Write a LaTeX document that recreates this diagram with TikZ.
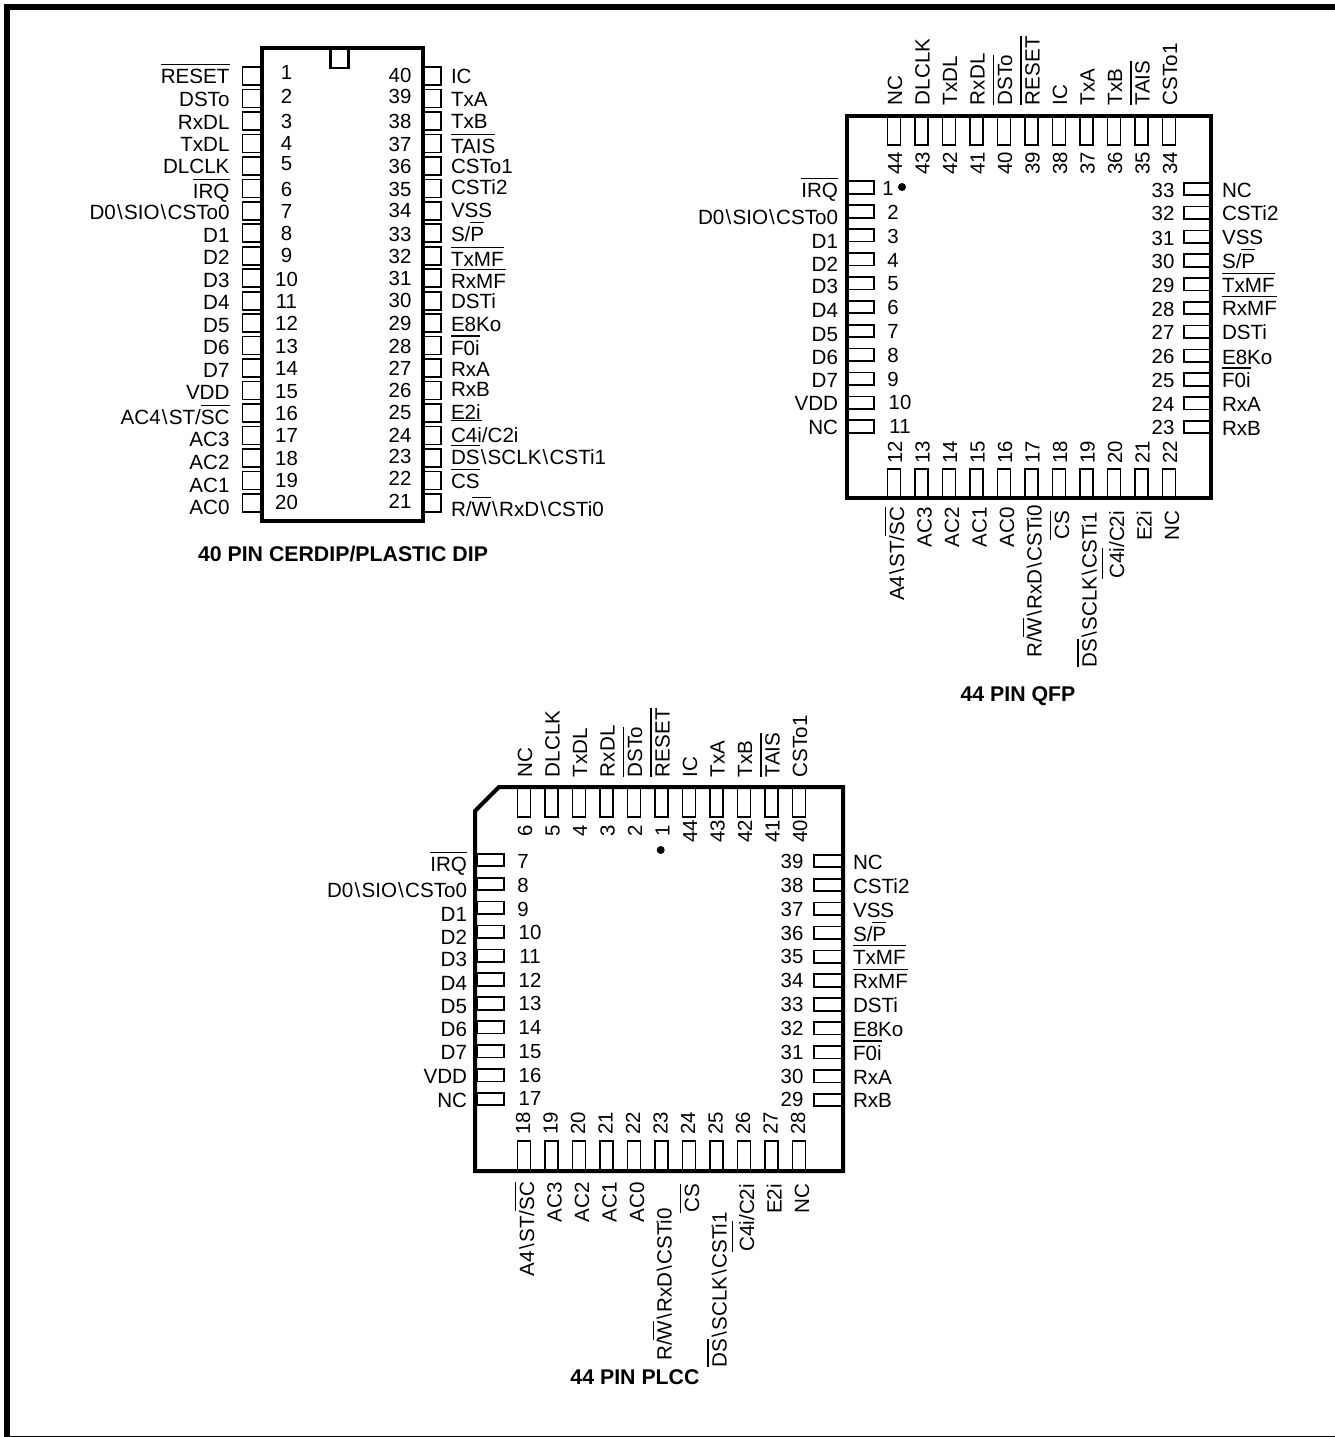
\documentclass[tikz,border=0pt]{standalone}
\usepackage{fontspec}
\setmainfont{Liberation Sans}
\newcommand{\bs}{\kern1.2pt\textbackslash\kern1.2pt}
% bar over active-low names, optional gap
\newcommand{\ovl}[2][3.5]{\leavevmode\vbox{\hrule height 1.2pt\kern #1pt\hbox{#2}}}
\tikzset{
  pinbox/.style={draw, rectangle, line width=1.7pt, inner sep=0pt, outer sep=0pt},
  pinnum/.style={inner sep=0pt, outer sep=0pt, font=\fontsize{20.4}{22}\selectfont},
  pinlabel/.style={inner sep=0pt, outer sep=0pt, font=\fontsize{20.6}{22}\selectfont},
  titlelabel/.style={inner sep=0pt, outer sep=0pt, anchor=base, font=\fontsize{21.3}{23}\selectfont\bfseries},
  chipline/.style={line width=4pt, line join=miter},
  pindot/.style={circle, fill, inner sep=0pt, minimum size=8pt}
}

\begin{document}
\begin{tikzpicture}[x=1pt, y=-1pt]
  \useasboundingbox (0,0) rectangle (1335,1437);
  % page frame
  \draw[line width=6pt] (7,1437) -- (7,7) -- (1335,7);
  \draw[line width=1.2pt] (4,1436.4) -- (1335,1436.4);

  % 40 pin DIP
  \foreach \n/\ny/\ly/\t in {1/80/83/\ovl{RESET}, 2/103/106/DSTo, 3/128/129/RxDL, 4/150/151/TxDL, 5/170/173/DLCLK,
      6/196/198/\ovl{IRQ}, 7/218/219/D0\bs SIO\bs CSTo0, 8/240/242/D1, 9/262/264/D2, 10/286/287/D3,
      11/308/309/D4, 12/330/332/D5, 13/353/354/D6, 14/375/377/D7, 15/398/399/VDD,
      16/420/424/{AC4\bs ST/\ovl{SC}}, 17/442/446/AC3, 18/465/469/AC2, 19/487/492/AC1, 20/509/514/AC0} {
    \node[pinbox, anchor=east, minimum width=19.5pt, minimum height=18pt] (dipp\n) at (262,{76+22.47*(\n-1)}) {};
    \node[pinnum, anchor=base] (dipn\n) at (286.5,\ny) {\n};
    \node[pinlabel, anchor=base east] (dipl\n) at (229.5,\ly) {\t};
  }
  \foreach \n/\ny/\ly/\t in {40/82/83/IC, 39/103/106/TxA, 38/128/128/TxB, 37/151/153/\ovl{TAIS}, 36/173/173/CSTo1,
      35/196/194/CSTi2, 34/217/217/VSS, 33/241/241/{S/\ovl{P}}, 32/263/266/\ovl{TxMF}, 31/285/288/\ovl{RxMF},
      30/307/308/DSTi, 29/330/331/E8Ko, 28/353/355/\ovl{F0i}, 27/375/376/RxA, 26/397/396/RxB,
      25/419/419/E2i, 24/442/442/{\ovl[6]{C4i}/C2i}, 23/463/464/\ovl{DS}\bs SCLK\bs CSTi1, 22/485/488/\ovl{CS},
      21/508/516/{R/\ovl{W}\bs RxD\bs CSTi0}} {
    \node[pinbox, anchor=west, minimum width=17pt, minimum height=18pt] (dipp\n) at (424,{76+22.47*(40-\n)}) {};
    \node[pinnum, anchor=base] (dipn\n) at (400,\ny) {\n};
    \node[pinlabel, anchor=base west] (dipl\n) at (451,\ly) {\t};
  }
  \draw[chipline] (262,48) rectangle (423,521);
  \node[draw, rectangle, line width=2.5pt, inner sep=0pt, anchor=north, minimum width=18pt, minimum height=19pt] (dipnotch) at (339.5,48) {};
  \node[titlelabel] (diptitle) at (343,561.5) {40 PIN CERDIP/PLASTIC DIP};

  % 44 pin QFP
  \foreach \i/\n/\t in {0/44/NC, 1/43/DLCLK, 2/42/TxDL, 3/41/RxDL, 4/40/\ovl{DSTo}, 5/39/\ovl{RESET},
      6/38/IC, 7/37/TxA, 8/36/TxB, 9/35/\ovl{TAIS}, 10/34/CSTo1} {
    \node[pinbox, anchor=north, minimum width=13pt, minimum height=29pt] (qfpp\n) at ({894+27.5*\i},116) {};
    \node[pinnum, anchor=base, rotate=90] (qfpn\n) at ({902+27.5*\i},163) {\n};
    \node[pinlabel, anchor=base west, rotate=90] (qfpl\n) at ({902+27.5*\i},105) {\t};
  }
  \foreach \i/\n/\ly/\t in {0/12/507/{A4\bs ST/\ovl{SC}}, 1/13/507/AC3, 2/14/507/AC2, 3/15/507/AC1, 4/16/507/AC0,
      5/17/505/{R/\ovl{W}\bs RxD\bs CSTi0}, 6/18/511/\ovl{CS}, 7/19/512/\ovl{DS}\bs SCLK\bs CSTi1,
      8/20/511/{\ovl[6]{C4i}/C2i}, 9/21/511/E2i, 10/22/511/NC} {
    \node[pinbox, anchor=south, minimum width=13pt, minimum height=29pt] (qfpp\n) at ({894+27.5*\i},498) {};
    \node[pinnum, anchor=base, rotate=90] (qfpn\n) at ({902+27.5*\i},452) {\n};
    \node[pinlabel, anchor=base east, rotate=90] (qfpl\n) at ({904+27.5*\i},\ly) {\t};
  }
  \foreach \n/\nx/\ny/\ly/\t in {1/888/195/197/\ovl{IRQ}, 2/893/219/224/D0\bs SIO\bs CSTo0, 3/893/243/248/D1, 4/893/267/271/D2,
      5/893/290/293/D3, 6/893/314/317/D4, 7/893/338/341/D5, 8/893/362/364/D6, 9/893/386/387/D7,
      10/900/409/410/VDD, 11/900/433/434/NC} {
    \node[pinbox, anchor=west, minimum width=26pt, minimum height=12.5pt] (qfpp\n) at (848,{187.5+23.9*(\n-1)}) {};
    \node[pinnum, anchor=base] (qfpn\n) at (\nx,\ny) {\n};
    \node[pinlabel, anchor=base east] (qfpl\n) at (838,\ly) {\t};
  }
  \foreach \n/\ny/\ly/\t in {33/197/197/NC, 32/220/220/CSTi2, 31/245/244/VSS, 30/268/268/{S/\ovl{P}}, 29/292/292/\ovl{TxMF},
      28/316/315/\ovl{RxMF}, 27/339/339/DSTi, 26/363/364/E8Ko, 25/387/387/\ovl{F0i}, 24/411/411/RxA, 23/434/435/RxB} {
    \node[pinbox, anchor=east, minimum width=27pt, minimum height=12.5pt] (qfpp\n) at (1211,{189+23.8*(33-\n)}) {};
    \node[pinnum, anchor=base] (qfpn\n) at (1163,\ny) {\n};
    \node[pinlabel, anchor=base west] (qfpl\n) at (1222,\ly) {\t};
  }
  \draw[chipline] (847,116) rectangle (1211,498);
  \node[pindot] (qfpdot) at (902,187) {};
  \node[titlelabel] (qfptitle) at (1018,701) {44 PIN QFP};

  % 44 pin PLCC
  \foreach \i/\n/\t in {0/6/NC, 1/5/DLCLK, 2/4/TxDL, 3/3/RxDL, 4/2/\ovl{DSTo}, 5/1/\ovl{RESET},
      6/44/IC, 7/43/TxA, 8/42/TxB, 9/41/\ovl{TAIS}, 10/40/CSTo1} {
    \node[pinbox, anchor=north, minimum width=13pt, minimum height=30pt] (plccp\n) at ({524+27.5*\i},787) {};
    \node[pinnum, anchor=base, rotate=90] (plccn\n) at ({532+27.5*\i},831) {\n};
    \node[pinlabel, anchor=base west, rotate=90] (plccl\n) at ({532+27.5*\i},777) {\t};
  }
  \foreach \i/\n/\ly/\t in {0/18/1182/{A4\bs ST/\ovl{SC}}, 1/19/1182/AC3, 2/20/1182/AC2, 3/21/1182/AC1, 4/22/1182/AC0,
      5/23/1208/{R/\ovl{W}\bs RxD\bs CSTi0}, 6/24/1184/\ovl{CS}, 7/25/1212/\ovl{DS}\bs SCLK\bs CSTi1,
      8/26/1184/{\ovl[6]{C4i}/C2i}, 9/27/1184/E2i, 10/28/1184/NC} {
    \node[pinbox, anchor=south, minimum width=13pt, minimum height=30pt] (plccp\n) at ({524+27.5*\i},1171) {};
    \node[pinnum, anchor=base, rotate=90] (plccn\n) at ({530+27.5*\i},1123) {\n};
    \node[pinlabel, anchor=base east, rotate=90] (plccl\n) at ({534+27.5*\i},\ly) {\t};
  }
  \foreach \n/\nx/\ny/\ly/\t in {7/523/868/871/\ovl{IRQ}, 8/523/892/897/D0\bs SIO\bs CSTo0, 9/523/916/921/D1, 10/530/939/944/D2,
      11/530/963/966/D3, 12/530/987/990/D4, 13/530/1010/1013/D5, 14/530/1034/1036/D6, 15/530/1058/1059/D7,
      16/530/1082/1083/VDD, 17/530/1105/1107/NC} {
    \node[pinbox, anchor=west, minimum width=27pt, minimum height=12.5pt] (plccp\n) at (477,{860+23.9*(\n-7)}) {};
    \node[pinnum, anchor=base] (plccn\n) at (\nx,\ny) {\n};
    \node[pinlabel, anchor=base east] (plccl\n) at (467,\ly) {\t};
  }
  \foreach \n/\ny/\ly/\t in {39/868/869/NC, 38/892/893/CSTi2, 37/916/917/VSS, 36/940/941/{S/\ovl{P}}, 35/963/964/\ovl{TxMF},
      34/987/988/\ovl{RxMF}, 33/1011/1012/DSTi, 32/1035/1036/E8Ko, 31/1059/1060/\ovl{F0i}, 30/1083/1084/RxA, 29/1106/1107/RxB} {
    \node[pinbox, anchor=east, minimum width=29pt, minimum height=12.5pt] (plccp\n) at (843,{861+23.9*(39-\n)}) {};
    \node[pinnum, anchor=base] (plccn\n) at (792,\ny) {\n};
    \node[pinlabel, anchor=base west] (plccl\n) at (853,\ly) {\t};
  }
  \draw[chipline] (499,787) -- (843,787) -- (843,1171) -- (475,1171) -- (475,811) -- cycle;
  \node[pindot] (plccdot) at (660.7,850) {};
  \node[titlelabel] (plcctitle) at (635,1384) {44 PIN PLCC};
\end{tikzpicture}
\end{document}
